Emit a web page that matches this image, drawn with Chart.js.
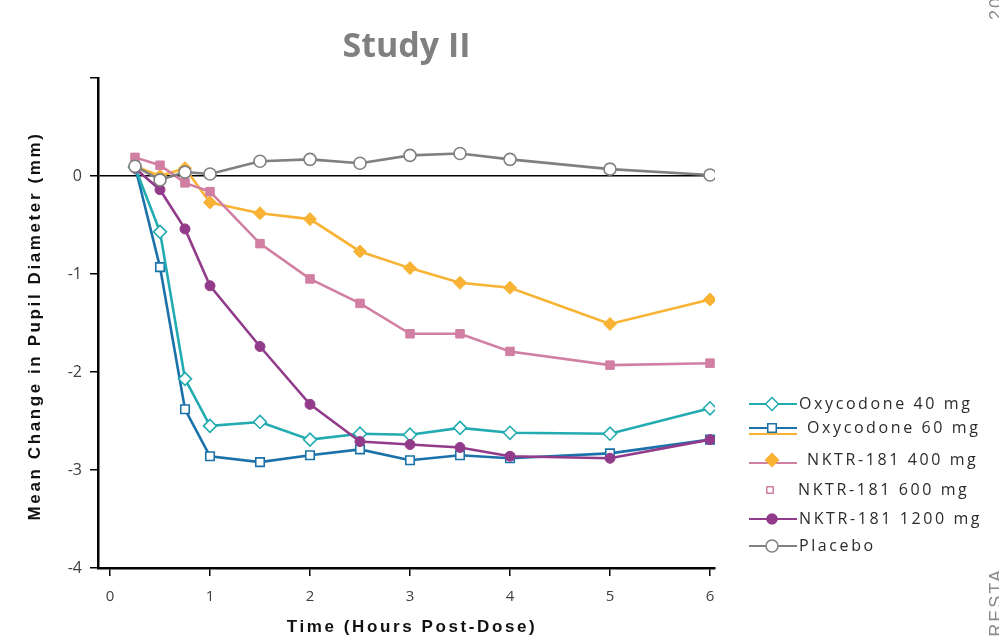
<!DOCTYPE html>
<html>
<head>
<meta charset="utf-8">
<script src="https://cdn.jsdelivr.net/npm/chart.js@4.4.1/dist/chart.umd.min.js"></script>
<style>
  html, body { margin: 0; padding: 0; background: #fff; }
  #wrap { width: 999px; height: 640px; }
</style>
</head>
<body>
<div id="wrap"><canvas id="pupilChart" width="999" height="640"></canvas></div>
<script>
// hours post-dose and mean change in pupil diameter (mm)
const hours    = [0.25, 0.5, 0.75, 1, 1.5, 2, 2.5, 3, 3.5, 4, 5, 6];
const oxy40    = [0.09, -0.57, -2.07, -2.55, -2.51, -2.69, -2.63, -2.64, -2.57, -2.62, -2.63, -2.37];
const oxy60    = [0.10, -0.93, -2.38, -2.86, -2.92, -2.85, -2.79, -2.90, -2.85, -2.88, -2.83, -2.69];
const nktr400  = [0.10, 0.00, 0.08, -0.27, -0.38, -0.44, -0.77, -0.94, -1.09, -1.14, -1.51, -1.26];
const nktr600  = [0.19, 0.11, -0.07, -0.16, -0.69, -1.05, -1.30, -1.61, -1.61, -1.79, -1.93, -1.91];
const nktr1200 = [0.08, -0.14, -0.54, -1.12, -1.74, -2.33, -2.71, -2.74, -2.77, -2.86, -2.88, -2.69];
const placebo  = [0.10, -0.04, 0.04, 0.02, 0.15, 0.17, 0.13, 0.21, 0.23, 0.17, 0.07, 0.01];

const seriesNames = ['Oxycodone 40 mg', 'Oxycodone 60 mg', 'NKTR-181 400 mg', 'NKTR-181 600 mg', 'NKTR-181 1200 mg', 'Placebo'];
const xTicks = [0, 1, 2, 3, 4, 5, 6];
const yTicks = [1, 0, -1, -2, -3, -4];

const toPoints = vals => vals.map((v, i) => ({ x: hours[i], y: v }));

function series(label, vals, color, style, filled, order) {
    return {
        label: label,
        data: toPoints(vals),
        borderColor: color,
        backgroundColor: filled ? color : '#ffffff',
        pointBorderColor: color,
        pointBackgroundColor: filled ? color : '#ffffff',
        pointStyle: style,
        pointRadius: style === 'rectRot' ? 6.5 : (style === 'rect' ? 6 : 5),
        pointBorderWidth: filled ? 1 : 1.6,
        borderWidth: 2.6,
        tension: 0,
        order: order
    };
}

const datasets = [
    series(seriesNames[0], oxy40, '#22abb0', 'rectRot', false, 4),
    series(seriesNames[1], oxy60, '#1b72aa', 'rect', false, 5),
    series(seriesNames[2], nktr400, '#f8b334', 'rectRot', true, 3),
    series(seriesNames[3], nktr600, '#d17fa2', 'rect', true, 2),
    series(seriesNames[4], nktr1200, '#933b8b', 'circle', true, 1),
    series(seriesNames[5], placebo, '#808080', 'circle', false, 0)
];
datasets[5].pointRadius = 6;

// legend rows drawn by hand so each entry shows line + marker like the original
const legendRows = [
    { ds: 0, y: 404, tx: 799, lines: [[0, 404]] },
    { ds: 1, y: 428, tx: 807, lines: [[1, 428], [2, 434]] },
    { ds: 2, y: 460, tx: 807, lines: [[3, 463]] },
    { ds: 3, y: 490, tx: 798, lines: [], small: true },
    { ds: 4, y: 519, tx: 799, lines: [[4, 519]] },
    { ds: 5, y: 546, tx: 799, lines: [[5, 546]] }
];

const decor = {
    id: 'decor',
    afterDraw(chart) {
        const ctx = chart.ctx;
        ctx.save();

        // axis titles
        ctx.fillStyle = '#111';
        ctx.font = 'bold 17px "Liberation Sans", Arial, sans-serif';
        ctx.letterSpacing = '2.6px';
        ctx.textAlign = 'center';
        ctx.textBaseline = 'middle';
        ctx.fillText('Time (Hours Post-Dose)', 412, 627);
        ctx.save();
        ctx.translate(35, 326);
        ctx.rotate(-Math.PI / 2);
        ctx.fillText('Mean Change in Pupil Diameter (mm)', 0, 0);
        ctx.restore();

        // legend
        ctx.font = '16px "Open Sans", sans-serif';
        ctx.letterSpacing = '2.6px';
        ctx.textAlign = 'left';
        legendRows.forEach(row => {
            const ds = chart.data.datasets[row.ds];
            row.lines.forEach(([c, ly]) => {
                ctx.strokeStyle = chart.data.datasets[c].borderColor;
                ctx.lineWidth = 2;
                ctx.beginPath();
                ctx.moveTo(749, ly);
                ctx.lineTo(797, ly);
                ctx.stroke();
            });
            ctx.strokeStyle = ds.pointBorderColor;
            ctx.fillStyle = row.small ? '#ffffff' : ds.pointBackgroundColor;
            ctx.lineWidth = 1.5;
            Chart.helpers.drawPoint(ctx, {
                pointStyle: ds.pointStyle,
                radius: row.small ? 4.5 : ds.pointRadius,
                borderWidth: 1.5
            }, row.small ? 770 : 772, row.y);
            ctx.fillStyle = '#2b2b2b';
            ctx.fillText(ds.label, row.tx, row.y);
        });

        // cropped slide text on the right edge
        ctx.fillStyle = '#8a8a8a';
        ctx.font = '18px "Liberation Sans", Arial, sans-serif';
        ctx.letterSpacing = '2px';
        ctx.textBaseline = 'alphabetic';
        ctx.save();
        ctx.translate(1002, 20);
        ctx.rotate(-Math.PI / 2);
        ctx.textAlign = 'left';
        ctx.fillText('20', 0, 0);
        ctx.restore();
        ctx.save();
        ctx.translate(1002, 568);
        ctx.rotate(-Math.PI / 2);
        ctx.textAlign = 'right';
        ctx.fillText('ARESTA', 0, 0);
        ctx.restore();

        ctx.restore();
    }
};

new Chart(document.getElementById('pupilChart'), {
    type: 'line',
    data: { datasets: datasets },
    options: {
        responsive: false,
        animation: false,
        layout: { padding: { left: 0, right: 284, top: 0, bottom: 0 } },
        plugins: {
            legend: { display: false },
            tooltip: { enabled: false },
            title: {
                display: true,
                text: 'Study II',
                fullSize: false,
                color: '#808080',
                font: { family: '"Open Sans", sans-serif', size: 34, weight: 'bold', lineHeight: 1.2 },
                padding: { top: 27, bottom: 10.2 }
            }
        },
        scales: {
            x: {
                type: 'linear',
                min: -0.12,
                max: 6.05,
                afterBuildTicks: s => { s.ticks = xTicks.map(v => ({ value: v })); },
                afterFit: s => { s.height = 72; },
                border: { color: '#000', width: 2.5 },
                grid: { drawOnChartArea: false, color: '#000', tickColor: '#000', tickLength: 8, lineWidth: 1.5 },
                ticks: { color: '#404040', padding: 12, font: { family: '"Open Sans", sans-serif', size: 15 } }
            },
            y: {
                type: 'linear',
                min: -4,
                max: 1,
                afterBuildTicks: s => { s.ticks = yTicks.map(v => ({ value: v })); },
                afterFit: s => { s.width = 98; },
                border: { color: '#000', width: 2.5 },
                grid: {
                    color: c => (c.tick && c.tick.value === 0 ? '#000' : 'rgba(0,0,0,0)'),
                    tickColor: '#000',
                    tickLength: 8,
                    lineWidth: 1.5
                },
                ticks: {
                    color: '#404040',
                    padding: 8,
                    font: { family: '"Open Sans", sans-serif', size: 16 },
                    callback: v => (v === 1 ? '' : String(v))
                }
            }
        }
    },
    plugins: [decor]
});
</script>
</body>
</html>
